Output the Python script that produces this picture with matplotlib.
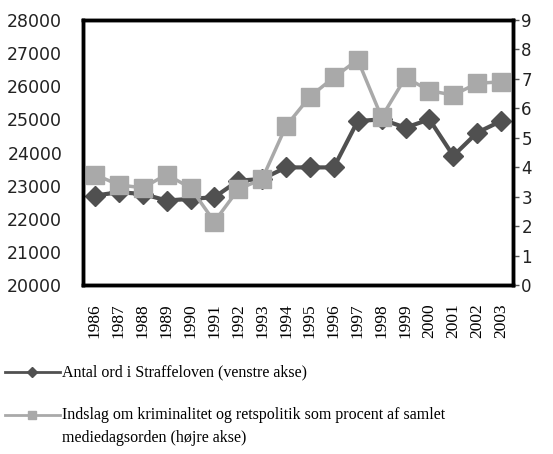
"""Antal ord i Straffeloven vs. mediedagsorden, 1986-2003."""

import matplotlib
matplotlib.use('Agg')
import matplotlib.pyplot as plt
from matplotlib.lines import Line2D

YEARS = [str(y) for y in range(1986, 2004)]
# Antal ord i Straffeloven (venstre akse)
WORDS = [22700, 22800, 22750, 22550, 22600, 22650, 23150, 23200, 23550,
         23550, 23550, 24950, 25000, 24750, 25000, 23900, 24600, 24950]
# Indslag som procent af samlet mediedagsorden (hoejre akse)
MEDIA = [3.75, 3.4, 3.3, 3.75, 3.3, 2.15, 3.25, 3.6, 5.4, 6.4, 7.05, 7.65,
         5.7, 7.05, 6.6, 6.45, 6.85, 6.9]

LEFT_TICKS = list(range(20000, 28001, 1000))
RIGHT_TICKS = list(range(0, 10))

DARK = '#505050'
LIGHT = '#a9a9a9'
SERIF = 'Liberation Serif'

fig = plt.figure(figsize=(5.53, 4.54), dpi=100)
ax = fig.add_axes([83 / 553, 1 - 285 / 454, 430 / 553, 265 / 454])
ax2 = ax.twinx()

x = range(len(YEARS))
ax.plot(x, WORDS, color=DARK, lw=3, marker='D', ms=10.5, mec=DARK, mfc=DARK)
ax2.plot(x, MEDIA, color=LIGHT, lw=2.5, marker='s', ms=13, mec=LIGHT,
         mfc=LIGHT)

ax.set_xlim(-0.5, len(YEARS) - 0.5)
ax.set_ylim(20000, 28000)
ax2.set_ylim(0, 9)
ax.set_xticks(list(x))
ax.set_xticklabels(YEARS, rotation=90, family=SERIF, fontsize=12.5)
ax.set_yticks(LEFT_TICKS)
ax.set_yticklabels([str(v) for v in LEFT_TICKS], fontsize=12.5,
                   color='#222222')
ax2.set_yticks(RIGHT_TICKS)
ax2.set_yticklabels([str(v) for v in RIGHT_TICKS], fontsize=12,
                    color='#222222')

ax.tick_params(axis='x', length=0, pad=13)
ax.tick_params(axis='y', length=0, pad=15)
ax2.tick_params(axis='y', length=4, width=1, pad=2, direction='out',
                color='#555555')
for a in (ax, ax2):
    for spine in a.spines.values():
        spine.set_linewidth(2.5)
        spine.set_color('black')


def legend_entry(y, color, marker, ms, lines):
    """Handle and text in figure pixels (y from top)."""
    fy = 1 - y / 454
    fig.add_artist(Line2D([5 / 553, 60 / 553], [fy, fy], color=color, lw=2,
                          transform=fig.transFigure))
    fig.add_artist(Line2D([32 / 553], [fy], color=color, marker=marker,
                          ms=ms, mec=color, mfc=color,
                          transform=fig.transFigure))
    for i, text in enumerate(lines):
        fig.text(62 / 553, 1 - (y + i * 23) / 454, text, family=SERIF,
                 fontsize=11.5, va='center', ha='left')


legend_entry(372, DARK, 'D', 5, ['Antal ord i Straffeloven (venstre akse)'])
legend_entry(415, LIGHT, 's', 6,
             ['Indslag om kriminalitet og retspolitik som procent af samlet',
              'mediedagsorden (højre akse)'])

fig.savefig('out.png', dpi=100)
